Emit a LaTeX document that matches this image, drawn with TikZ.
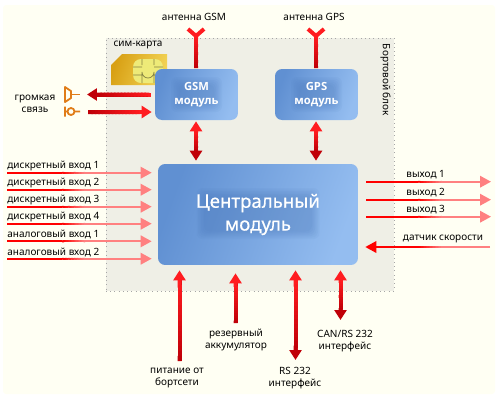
\documentclass[tikz,border=0pt]{standalone}
\usepackage{fontspec}
\setmainfont{Noto Sans}
\newfontfamily\modulefont{Open Sans}
\newfontfamily\cpufont{Noto Sans}[FakeBold=0.5]
\usetikzlibrary{arrows.meta, calc}

\definecolor{paper}{HTML}{FFFFF3}
\definecolor{blockgray}{HTML}{EFEFE6}
\definecolor{boxdark}{HTML}{6090D2}
\definecolor{boxlight}{HTML}{94BDF0}
\definecolor{halo}{HTML}{3A68AC}
\definecolor{wirebright}{HTML}{FF1C20}
\definecolor{wiredark}{HTML}{C00008}
\definecolor{wirepale}{HTML}{FF8080}
\definecolor{iconorange}{HTML}{E07C18}
\definecolor{simgold}{HTML}{F2D355}
\definecolor{simdark}{HTML}{D8A014}
\definecolor{chipyellow}{HTML}{EEEA78}

% colour run along a straight piece of wire
\newcommand{\fadeshaft}[5]{%
  \foreach \i in {0,...,15} {
    \pgfmathsetmacro{\j}{min(\i+1.5,16)}
    \pgfmathtruncatemacro{\p}{100*\i/15}
    \draw[line width=#5, #4!\p!#3] ($#1!\i/16!#2$) -- ($#1!\j/16!#2$);
  }}

% soft darker patch under a module's text
\newcommand{\softpatch}[3]{%
  \foreach \g in {0,...,5} {
    \fill[halo, opacity=0.05, rounded corners=0.12cm]
      ($(path picture bounding box.center)+(-#1-\g*1.5,-#2-\g*1.5)+(0,#3)$)
      rectangle ($(path picture bounding box.center)+(#1+\g*1.5,#2+\g*1.5)+(0,#3)$);
  }}

\tikzset{
  lab/.style={inner sep=0pt, font=\fontsize{5.7}{6.9}\selectfont, align=center},
  inlab/.style={lab, anchor=west},
  block/.style={draw=black!35, dotted, fill=blockgray, minimum width=5.76cm, minimum height=5.06cm, inner sep=0pt},
  module/.style={rounded corners=0.14cm, left color=boxdark, right color=boxlight, shading angle=70,
    text=white, inner sep=0pt, align=center},
  gsmbox/.style={module, minimum width=1.66cm, minimum height=1.02cm,
    font=\modulefont\fontsize{6.4}{8}\selectfont\bfseries, path picture={\softpatch{18}{10}{0}}},
  cpubox/.style={module, minimum width=4cm, minimum height=2.02cm, font=\cpufont\fontsize{10.6}{13}\selectfont,
    path picture={\softpatch{54}{18}{-1}}},
  wire/.style={line width=0.08cm, wirebright},
  brighttip/.tip={Triangle[length=2mm, width=2.4mm, color=wirebright]},
  darktip/.tip={Triangle[length=2mm, width=2.4mm, color=wiredark]},
  palewire/.style={line width=0.038cm, wirepale, -{Triangle[length=2.2mm, width=2.3mm, color=wirepale]}},
  speedwire/.style={line width=0.038cm, wirepale, -{Triangle[length=2.2mm, width=2.3mm, color=red]}},
  icon/.style={iconorange, line width=0.036cm}
}

\begin{document}
\begin{tikzpicture}[x=0.02cm, y=-0.02cm]
\useasboundingbox (0,0) rectangle (500,400);
\fill[paper, rounded corners=0.06cm] (3,5) rectangle (495,394);

\node[block] (unit) at (250,164.5) {};

% sim card
\shade[left color=simdark, right color=simgold, shading angle=70] (111,65) -- (122,54) -- (167,54) -- (167,85) -- (111,85) -- cycle;
\fill[chipyellow, rounded corners=0.16cm] (133,59) rectangle (163,83);
\draw[black!45!chipyellow, line width=0.014cm]
  (133,67) -- (142,67) (133,75) -- (142,75) (154,67) -- (163,67) (154,75) -- (163,75)
  (142,59) -- (142,65) (154,59) -- (154,65)
  (142,83) -- (142,72) arc (180:0:6) -- (154,83);

\node[gsmbox] (gsm) at (196.5,94.5) {GSM\\модуль};
\node[gsmbox] (gps) at (316.5,94.5) {GPS\\модуль};
\node[cpubox] (cpu) at (258,214.5) {Центральный\\модуль};

\node[lab] (gsmant) at (194,17) {антенна GSM};
\node[lab] (gpsant) at (314,17) {антенна GPS};
\node[lab] (sim) at (138,45) {сим-карта};
\node[lab, rotate=-90] (board) at (385.5,80) {Бортовой блок};
\node[lab] (voice) at (35,104) {громкая\\связь};

% antennas
\coordinate (gsmfork) at (196,36);
\coordinate (gpsfork) at (316,36);
\draw[wire, miter limit=4] (188,29) -- (gsmfork) -- (204,29);
\draw[wire, miter limit=4] (308,29) -- (gpsfork) -- (324,29);
\draw[wire, wiredark, shorten <=0.02cm] (gsm.north -| gsmfork) -- (gsmfork);
\draw[wire, wiredark, shorten <=0.02cm] (gps.north -| gpsfork) -- (gpsfork);
\fadeshaft{(gsmfork)}{(196,68)}{wirebright}{wiredark}{0.08cm}
\fadeshaft{(gpsfork)}{(316,68)}{wirebright}{wiredark}{0.08cm}

% speaker and microphone
\draw[icon, fill=paper, line join=round] (65,87) -- (71,91) -- (71,98) -- (65,102) -- cycle;
\draw[icon] (71,94.5) -- (80,94.5);
\draw[icon] (65,106.5) -- (65,116.5) (65,111.5) -- (67.5,111.5) (71,111.5) circle (3.5) (74.5,111.5) -- (80,111.5);

\coordinate (spk) at (87,94.5);
\coordinate (mic) at (88,112);
\draw[wire, wiredark, darktip-, shorten >=0.08cm] (spk) -- (gsm.west |- spk);
\fadeshaft{(97,94.5)}{(151,94.5)}{wiredark}{wirebright}{0.08cm}
\draw[wire, -brighttip, shorten >=0.06cm] (mic) -- (gsm.west |- mic);
\fadeshaft{(88,112)}{(142,112)}{wiredark}{wirebright}{0.08cm}

% module to central
\draw[wire, brighttip-darktip, shorten <=0.02cm, shorten >=0.06cm] (gsm.south -| gsmfork) -- (cpu.north -| gsmfork);
\draw[wire, brighttip-darktip, shorten <=0.02cm, shorten >=0.06cm] (gps.south -| gpsfork) -- (cpu.north -| gpsfork);
\fadeshaft{(196,131)}{(196,151)}{wirebright}{wiredark}{0.08cm}
\fadeshaft{(316,131)}{(316,151)}{wirebright}{wiredark}{0.08cm}

% inputs
\foreach \name/\txt/\y in {in1/дискретный вход 1/172.7, in2/дискретный вход 2/189.7,
  in3/дискретный вход 3/206.7, in4/дискретный вход 4/223.7,
  in5/аналоговый вход 1/241.3, in6/аналоговый вход 2/258.7} {
  \coordinate (\name) at (7,\y);
  \node[inlab] (\name lab) at (7,\y-6.7) {\txt};
  \draw[palewire, shorten >=0.12cm] (\name) -- (cpu.west |- \name);
  \draw[line width=0.038cm, red] (\name) -- (62,\y);
  \fadeshaft{(62,\y)}{(85,\y)}{red}{wirepale}{0.038cm}
}

% outputs
\foreach \name/\txt/\y in {out1/выход 1/181.7, out2/выход 2/199.7, out3/выход 3/216.7} {
  \coordinate (\name) at (491,\y);
  \node[lab] (\name lab) at (425.7,\y-6.7) {\txt};
  \draw[palewire, shorten <=0.16cm] (cpu.east |- \name) -- (\name);
  \draw[line width=0.038cm, red] (366,\y) -- (418,\y);
  \fadeshaft{(418,\y)}{(442,\y)}{red}{wirepale}{0.038cm}
}

% speed sensor
\coordinate (speed) at (490,247);
\node[lab] (speedlab) at (443,239) {датчик скорости};
\draw[speedwire, shorten >=0.14cm] (speed) -- (cpu.east |- speed);
\draw[line width=0.038cm, red] (376,247) -- (418,247);
\fadeshaft{(442,247)}{(418,247)}{wirepale}{red}{0.038cm}

% bottom connections
\node[lab] (power) at (177,378) {питание от\\бортсети};
\node[lab] (battery) at (236,340) {резервный\\аккумулятор};
\node[lab] (rs) at (295,378.5) {RS 232\\интерфейс};
\node[lab] (can) at (345,341) {CAN/RS 232\\интерфейс};

\coordinate (powerend) at (179.5,361);
\coordinate (batteryend) at (235.5,323);
\coordinate (rsend) at (295.5,360);
\coordinate (canend) at (340.5,320);
\draw[wire, wiredark, -brighttip, shorten >=0.1cm] (powerend) -- (cpu.south -| powerend);
\draw[wire, wiredark, -brighttip, shorten >=0.16cm] (batteryend) -- (cpu.south -| batteryend);
\draw[wire, brighttip-darktip, shorten <=0.1cm] (cpu.south -| rsend) -- (rsend);
\draw[wire, brighttip-darktip, shorten <=0.1cm] (cpu.south -| canend) -- (canend);
\fadeshaft{(179.5,280)}{(179.5,361)}{wirebright}{wiredark}{0.08cm}
\fadeshaft{(235.5,283)}{(235.5,323)}{wirebright}{wiredark}{0.08cm}
\fadeshaft{(295.5,280)}{(295.5,350)}{wirebright}{wiredark}{0.08cm}
\fadeshaft{(340.5,280)}{(340.5,310)}{wirebright}{wiredark}{0.08cm}
\end{tikzpicture}
\end{document}
